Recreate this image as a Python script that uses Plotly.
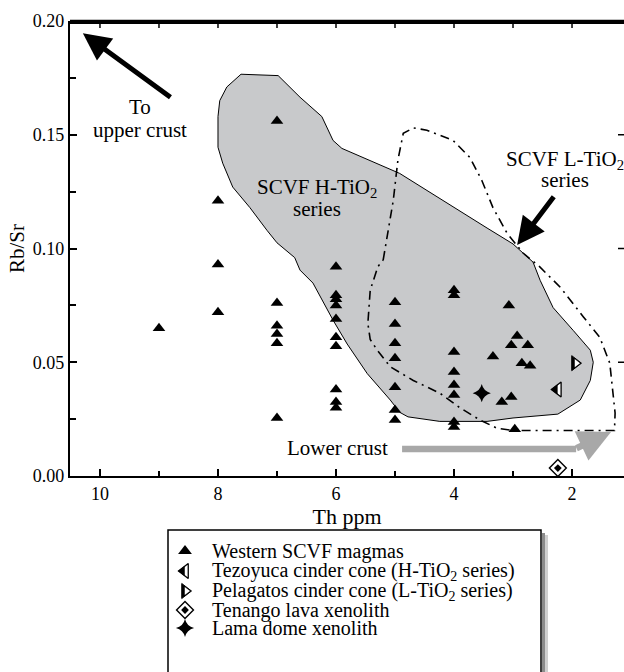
import plotly.graph_objects as go

FONT = "Liberation Serif"

# ---------------- data ----------------
western_th = [9,
              8, 8, 8,
              7, 7, 7, 7, 7, 7,
              6, 6, 6, 6, 6, 6, 6, 6, 6, 6,
              5, 5, 5, 5, 5, 5, 5,
              4, 4, 4, 4, 4, 4, 4, 4,
              3.07, 2.93, 3.03, 2.75, 3.34, 2.85, 2.71, 3.03, 3.19, 2.97]
western_rbsr = [0.065,
                0.121, 0.093, 0.072,
                0.156, 0.076, 0.066, 0.0624, 0.0584, 0.0255,
                0.092, 0.0795, 0.0777, 0.075, 0.069, 0.061, 0.057, 0.038, 0.0325, 0.030,
                0.0764, 0.0668, 0.0584, 0.0518, 0.039, 0.029, 0.0246,
                0.0817, 0.0795, 0.0545, 0.0457, 0.040, 0.0356, 0.0237, 0.0215,
                0.075, 0.0615, 0.0575, 0.0575, 0.0525, 0.0496, 0.0485, 0.0347, 0.0325, 0.0205]

tezoyuca_th = [2.24]
tezoyuca_rbsr = [0.038]
pelagatos_th = [1.95]
pelagatos_rbsr = [0.0496]
tenango_th = [2.24]
tenango_rbsr = [0.0035]
lama_th = [3.53]
lama_rbsr = [0.0364]

# SCVF H-TiO2 field outline
htio2_th = [7.61, 6.98, 6.61, 6.24, 6.05, 5.90, 4.92, 4.19, 3.44, 3.00, 2.66, 2.54,
            2.32, 1.98, 1.69, 1.64, 1.69, 1.86, 2.24, 3.00, 3.44, 4.24, 4.78, 4.92,
            5.08, 5.47, 5.81, 6.05, 6.22, 6.39, 6.61, 6.70, 7.00, 7.17, 7.46, 7.75,
            7.92, 8.00, 8.00, 7.97, 7.85, 7.61]
htio2_rbsr = [0.1766, 0.1760, 0.1665, 0.1580, 0.1475, 0.1440, 0.1330, 0.1210, 0.1090,
              0.1020, 0.0940, 0.0860, 0.0740, 0.0640, 0.0553, 0.0500, 0.0420, 0.0334,
              0.0272, 0.0255, 0.0240, 0.0240, 0.0260, 0.0280, 0.0334, 0.0450, 0.0580,
              0.0685, 0.0770, 0.0848, 0.0905, 0.0960, 0.1025, 0.1080, 0.1180, 0.1270,
              0.1375, 0.1445, 0.1580, 0.1650, 0.1710, 0.1766]

# SCVF L-TiO2 field outline
ltio2_th = [5.20, 5.03, 4.95, 4.86, 4.69, 4.46, 4.02, 3.73, 3.53, 3.34, 3.10, 2.83,
            2.55, 2.20, 1.81, 1.53, 1.36, 1.31, 1.27, 1.28, 3.00, 3.27, 3.56, 3.90,
            4.24, 4.69, 5.08, 5.30, 5.42, 5.46, 5.42, 5.29, 5.20]
ltio2_rbsr = [0.0950, 0.1210, 0.1390, 0.1506, 0.1530, 0.1520, 0.1476, 0.1400, 0.1300,
              0.1180, 0.1067, 0.0980, 0.0920, 0.0830, 0.0700, 0.0610, 0.0496, 0.0378,
              0.0277, 0.0200, 0.0200, 0.0210, 0.0246, 0.0300, 0.0364, 0.0420, 0.0480,
              0.0553, 0.0600, 0.0670, 0.0817, 0.0920, 0.0950]

x_ticks = [10, 8, 6, 4, 2]
x_minor = [9, 7, 5, 3]
y_ticks = [0.00, 0.05, 0.10, 0.15, 0.20]
y_ticktext = ["0.00", "0.05", "0.10", "0.15", "0.20"]
y_minor = [0.025, 0.075, 0.125, 0.175]
y_right_ticks = [0.05, 0.10, 0.15]

legend_labels = [
    "Western SCVF magmas",
    "Tezoyuca cinder cone (H-TiO<sub>2</sub> series)",
    "Pelagatos cinder cone (L-TiO<sub>2</sub> series)",
    "Tenango lava xenolith",
    "Lama dome xenolith",
]

# ---------------- layout helpers ----------------
W, H = 624, 672
ML, MR, MT, MB = 70, 0, 21, 0
PLOT_BOTTOM_PX = 476
XRANGE = [10.508, 1.119]
YMAX = 0.2
px_per_th = (W - ML - MR) / (XRANGE[0] - XRANGE[1])
main_dom_bottom = (H - PLOT_BOTTOM_PX) / (H - MT - MB)


def px_to_paper_x(px):
    return (px - ML) / (W - ML - MR)


def px_to_paper_y(py):
    return (H - MB - py) / (H - MT - MB)


def th_to_px(v):
    return ML + (XRANGE[0] - v) * px_per_th


def rbsr_to_py(v):
    return PLOT_BOTTOM_PX - v / YMAX * (PLOT_BOTTOM_PX - MT)


def shift_th(vals, dpx):
    return [v - dpx / px_per_th for v in vals]


fig = go.Figure()

# H-TiO2 field
fig.add_trace(go.Scatter(x=htio2_th, y=htio2_rbsr, mode="lines", fill="toself",
                         fillcolor="#c8c9cb", line=dict(color="black", width=1),
                         hoverinfo="skip"))
# L-TiO2 field
fig.add_trace(go.Scatter(x=ltio2_th, y=ltio2_rbsr, mode="lines",
                         line=dict(color="black", width=1.6, dash="9px,5px,2px,5px"),
                         hoverinfo="skip"))

# Western SCVF magmas
fig.add_trace(go.Scatter(x=western_th, y=western_rbsr, mode="markers",
                         marker=dict(symbol="triangle-up", size=11, color="black",
                                     line=dict(width=0))))

# Tezoyuca (half filled triangle-left)
fig.add_trace(go.Scatter(x=tezoyuca_th, y=tezoyuca_rbsr, mode="markers",
                         marker=dict(symbol="triangle-left", size=13, color="white",
                                     line=dict(color="black", width=1.3))))
fig.add_trace(go.Scatter(x=shift_th(tezoyuca_th, -2.5), y=tezoyuca_rbsr, mode="markers",
                         marker=dict(symbol="triangle-left", size=9, color="black",
                                     line=dict(width=0))))
# Pelagatos (half filled triangle-right)
fig.add_trace(go.Scatter(x=pelagatos_th, y=pelagatos_rbsr, mode="markers",
                         marker=dict(symbol="triangle-right", size=13, color="black",
                                     line=dict(color="black", width=1))))
fig.add_trace(go.Scatter(x=shift_th(pelagatos_th, 1.5), y=pelagatos_rbsr, mode="markers",
                         marker=dict(symbol="triangle-right", size=7, color="white",
                                     line=dict(width=0))))
# Tenango
fig.add_trace(go.Scatter(x=tenango_th, y=tenango_rbsr, mode="markers",
                         marker=dict(symbol="diamond-open", size=13, color="black",
                                     line=dict(color="black", width=1.4))))
fig.add_trace(go.Scatter(x=tenango_th, y=tenango_rbsr, mode="markers",
                         marker=dict(symbol="diamond", size=6, color="black",
                                     line=dict(width=0))))
# Lama
fig.add_trace(go.Scatter(x=lama_th, y=lama_rbsr, mode="markers",
                         marker=dict(symbol="star-diamond", size=13, color="black",
                                     line=dict(width=0))))

# ---------------- overlay pixel axes (x3/y3): frame pieces + legend keys ----------------
# top frame line
fig.add_trace(go.Scatter(x=[ML, W - MR], y=[MT + 1.5, MT + 1.5], xaxis="x3", yaxis="y3",
                         mode="lines", line=dict(color="black", width=3),
                         hoverinfo="skip"))
# top inward ticks
tx, ty = [], []
for v in x_ticks + x_minor:
    p = th_to_px(v)
    tx += [p, p, None]
    ty += [MT, MT + 7, None]
fig.add_trace(go.Scatter(x=tx, y=ty, xaxis="x3", yaxis="y3", mode="lines",
                         line=dict(color="black", width=1.5), hoverinfo="skip"))
# right inward ticks
rx, ry = [], []
for v in y_right_ticks:
    p = rbsr_to_py(v)
    rx += [W - MR - 6, W - MR, None]
    ry += [p, p, None]
fig.add_trace(go.Scatter(x=rx, y=ry, xaxis="x3", yaxis="y3", mode="lines",
                         line=dict(color="black", width=1.5), hoverinfo="skip"))

# legend keys
leg_rows = [551, 571, 591, 610, 628]
leg_mx = 185
lx = [leg_mx]
fig.add_trace(go.Scatter(x=lx, y=[leg_rows[0]], xaxis="x3", yaxis="y3", mode="markers",
                         marker=dict(symbol="triangle-up", size=12, color="black")))
fig.add_trace(go.Scatter(x=lx, y=[leg_rows[1]], xaxis="x3", yaxis="y3", mode="markers",
                         marker=dict(symbol="triangle-left", size=13, color="white",
                                     line=dict(color="black", width=1.3))))
fig.add_trace(go.Scatter(x=[leg_mx - 2.5], y=[leg_rows[1]], xaxis="x3", yaxis="y3",
                         mode="markers",
                         marker=dict(symbol="triangle-left", size=9, color="black")))
fig.add_trace(go.Scatter(x=lx, y=[leg_rows[2]], xaxis="x3", yaxis="y3", mode="markers",
                         marker=dict(symbol="triangle-right", size=13, color="black",
                                     line=dict(color="black", width=1))))
fig.add_trace(go.Scatter(x=[leg_mx + 1.5], y=[leg_rows[2]], xaxis="x3", yaxis="y3",
                         mode="markers",
                         marker=dict(symbol="triangle-right", size=7, color="white")))
fig.add_trace(go.Scatter(x=lx, y=[leg_rows[3]], xaxis="x3", yaxis="y3", mode="markers",
                         marker=dict(symbol="diamond-open", size=13, color="black",
                                     line=dict(color="black", width=1.4))))
fig.add_trace(go.Scatter(x=lx, y=[leg_rows[3]], xaxis="x3", yaxis="y3", mode="markers",
                         marker=dict(symbol="diamond", size=6, color="black")))
fig.add_trace(go.Scatter(x=lx, y=[leg_rows[4]], xaxis="x3", yaxis="y3", mode="markers",
                         marker=dict(symbol="star-diamond", size=13, color="black")))

annotations = []
for row, lab in zip(leg_rows, legend_labels):
    annotations.append(dict(x=px_to_paper_x(210), y=px_to_paper_y(row), xref="paper",
                            yref="paper", text=lab, showarrow=False, xanchor="left",
                            yanchor="middle", font=dict(family=FONT, size=20, color="black")))

shapes = [
    # legend shadow
    dict(type="rect", xref="paper", yref="paper", x0=px_to_paper_x(542), x1=px_to_paper_x(545),
         y0=-0.05, y1=px_to_paper_y(533), fillcolor="#8c8c8c", line=dict(width=0), layer="above"),
    dict(type="rect", xref="paper", yref="paper", x0=px_to_paper_x(545), x1=px_to_paper_x(548),
         y0=-0.05, y1=px_to_paper_y(535), fillcolor="#d0d0d0", line=dict(width=0), layer="above"),
    # legend box
    dict(type="rect", xref="paper", yref="paper", x0=px_to_paper_x(168), x1=px_to_paper_x(541),
         y0=-0.05, y1=px_to_paper_y(530), fillcolor="rgba(0,0,0,0)",
         line=dict(color="black", width=1.5), layer="above"),
    # lower crust arrow shaft
    dict(type="line", xref="x", yref="y", x0=4.88, y0=0.0119, x1=1.93, y1=0.0119,
         line=dict(color="#a8a8a8", width=6.5), layer="above"),
    # top frame line (backup, paper refs)
    dict(type="line", xref="paper", yref="paper", x0=0, x1=1,
         y0=1.0, y1=1.0, line=dict(color="black", width=2.5), layer="above"),
]

# ---------------- text & arrows on the chart ----------------
def txt(x, y, s, size=21):
    return dict(x=x, y=y, xref="x", yref="y", text=s, showarrow=False,
                xanchor="center", yanchor="middle",
                font=dict(family=FONT, size=size, color="black"))

annotations += [
    txt(9.32, 0.1621, "To"),
    txt(9.32, 0.1520, "upper crust"),
    txt(6.32, 0.1265, "SCVF H-TiO<sub>2</sub>"),
    txt(6.32, 0.1173, "series"),
    txt(2.12, 0.1388, "SCVF L-TiO<sub>2</sub>"),
    txt(2.12, 0.1300, "series"),
    txt(5.98, 0.0125, "Lower crust"),
    dict(x=10.29, y=0.1946, ax=8.78, ay=0.166, xref="x", yref="y", axref="x", ayref="y",
         text="", showarrow=True, arrowhead=2, arrowsize=1.1, arrowwidth=5,
         arrowcolor="black", standoff=0),
    dict(x=2.93, y=0.1015, ax=2.29, ay=0.1234, xref="x", yref="y", axref="x", ayref="y",
         text="", showarrow=True, arrowhead=2, arrowsize=1.1, arrowwidth=5,
         arrowcolor="black", standoff=0),
    dict(x=1.339, y=0.0193, ax=1.95, ay=0.0119, xref="x", yref="y", axref="x", ayref="y",
         text="", showarrow=True, arrowhead=2, arrowsize=1.0, arrowwidth=6.5,
         arrowcolor="#a8a8a8", standoff=0),
]

fig.update_layout(
    width=W, height=H,
    margin=dict(l=ML, r=MR, t=MT, b=MB, autoexpand=False),
    plot_bgcolor="rgba(0,0,0,0)", paper_bgcolor="white",
    showlegend=False,
    font=dict(family=FONT, color="black"),
    xaxis=dict(domain=[0, 1], anchor="y", range=XRANGE, tickvals=x_ticks,
               automargin=False,
               ticks="inside", ticklen=7, tickwidth=1.5, tickcolor="black",
               minor=dict(tickvals=x_minor, ticks="inside", ticklen=5, tickwidth=1.5,
                          tickcolor="black"),
               showline=True, linewidth=2.2, linecolor="black", mirror=False,
               showgrid=False, zeroline=False,
               tickfont=dict(family=FONT, size=18, color="black"),
               title=dict(text="Th ppm", font=dict(family=FONT, size=22, color="black"),
                          standoff=1)),
    yaxis=dict(domain=[main_dom_bottom, 1], anchor="x", range=[0, YMAX],
               automargin=False,
               tickvals=y_ticks, ticktext=y_ticktext,
               ticks="inside", ticklen=7, tickwidth=1.5, tickcolor="black",
               minor=dict(tickvals=y_minor, ticks="inside", ticklen=6, tickwidth=1.5,
                          tickcolor="black"),
               showline=True, linewidth=2.2, linecolor="black", mirror=False,
               showgrid=False, zeroline=False,
               tickfont=dict(family=FONT, size=18, color="black"),
               title=dict(text="Rb/Sr", font=dict(family=FONT, size=21, color="black"),
                          standoff=2)),
    xaxis3=dict(domain=[0, 1], anchor="y3", range=[ML, W - MR], visible=False,
                automargin=False),
    yaxis3=dict(domain=[0, 1], anchor="x3", range=[H - MB, MT], visible=False,
                automargin=False),
    annotations=annotations,
    shapes=shapes,
)

fig.write_html("out.html",
               config={"displayModeBar": False},
               post_script="document.body.style.margin='0';"
                           "document.body.style.overflow='hidden';")
